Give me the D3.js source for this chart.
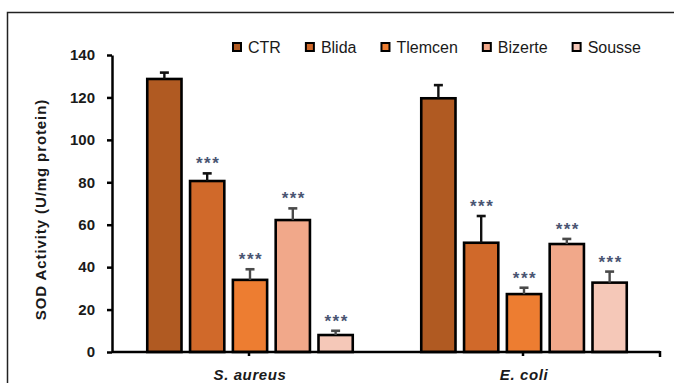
<!DOCTYPE html>
<html>
<head>
<meta charset="utf-8">
<script src="https://cdn.jsdelivr.net/npm/d3@7"></script>
<style>
  html, body { margin: 0; padding: 0; background: #fff; }
  svg { display: block; }
  text { font-family: "Liberation Sans", Arial, sans-serif; fill: #1a1a1a; }
</style>
</head>
<body>
<svg id="chart" width="674" height="383"></svg>
<script>
// Bacterial strains (x categories) and extract groups (series)
const categories = ["S. aureus", "E. coli"];
const series = ["CTR", "Blida", "Tlemcen", "Bizerte", "Sousse"];
const seriesColors = ["#B05A22", "#D0692A", "#ED7D31", "#F1A88A", "#F5C8B8"];

// SOD activity means (U/mg protein), one array per strain, in series order
const sAureusValues = [128.7, 80.6, 34.0, 62.2, 8.0];
const eColiValues   = [119.6, 51.5, 27.3, 50.9, 32.7];
// Standard deviations
const sAureusErrors = [3.0, 3.6, 5.0, 5.5, 2.0];
const eColiErrors   = [6.2, 12.6, 3.0, 2.4, 5.2];
// Significance vs control
const sAureusSig = ["", "***", "***", "***", "***"];
const eColiSig   = ["", "***", "***", "***", "***"];

const yTicks = [0, 20, 40, 60, 80, 100, 120, 140];
const yTitle = "SOD Activity (U/mg protein)";

const valuesByCat = [sAureusValues, eColiValues];
const errorsByCat = [sAureusErrors, eColiErrors];
const sigByCat = [sAureusSig, eColiSig];

const rows = [];
categories.forEach((c, ci) => {
  series.forEach((s, si) => {
    rows.push({ cat: c, ser: s, si, value: valuesByCat[ci][si], err: errorsByCat[ci][si], sig: sigByCat[ci][si] });
  });
});

const svg = d3.select("#chart");

// outer frame
svg.append("rect")
  .attr("x", 7.5).attr("y", 12.5)
  .attr("width", 700).attr("height", 420)
  .attr("fill", "none").attr("stroke", "#222").attr("stroke-width", 1.5);

const plot = { left: 112, right: 660, top: 55, bottom: 352 };

const y = d3.scaleLinear().domain([0, 140]).range([plot.bottom, plot.top]);
const x0 = d3.scaleBand().domain(categories).range([plot.left, plot.right]).paddingInner(0).paddingOuter(0);
const x1 = d3.scaleBand().domain(series).range([0, x0.bandwidth()]).paddingInner(0.2).paddingOuter(0.8);
const color = d3.scaleOrdinal().domain(series).range(seriesColors);

// bars
const bars = svg.append("g");
bars.selectAll("rect").data(rows).join("rect")
  .attr("x", d => x0(d.cat) + x1(d.ser) + 1)
  .attr("y", d => y(d.value))
  .attr("width", x1.bandwidth())
  .attr("height", d => y(0) - y(d.value))
  .attr("fill", d => color(d.ser))
  .attr("stroke", "#000").attr("stroke-width", 2.6);

// error bars (upper half only)
const capW = 9;
const errG = svg.append("g");
rows.forEach(d => {
  const cx = x0(d.cat) + x1(d.ser) + 1 + x1.bandwidth() / 2;
  const col = d.si <= 1 ? "#111" : "#4a4a4a";
  errG.append("line")
    .attr("x1", cx).attr("x2", cx)
    .attr("y1", y(d.value)).attr("y2", y(d.value + d.err))
    .attr("stroke", col).attr("stroke-width", 2.4);
  errG.append("line")
    .attr("x1", cx - capW / 2).attr("x2", cx + capW / 2)
    .attr("y1", y(d.value + d.err)).attr("y2", y(d.value + d.err))
    .attr("stroke", col).attr("stroke-width", 2.6);
  if (d.sig) {
    errG.append("text")
      .attr("x", cx + 1).attr("y", y(d.value + d.err) - 4)
      .attr("text-anchor", "middle")
      .attr("font-size", 17).attr("font-weight", "bold")
      .style("fill", "#4a5572")
      .style("letter-spacing", "1.5px")
      .text(d.sig);
  }
});

// y axis
const yAxis = d3.axisLeft(y).tickValues(yTicks).tickSize(5).tickSizeOuter(0).tickPadding(12);
const yg = svg.append("g").attr("transform", `translate(${plot.left},0)`).call(yAxis);
yg.select(".domain").attr("stroke", "#000").attr("stroke-width", 2.5);
yg.selectAll(".tick line").attr("stroke", "#000").attr("stroke-width", 2.5);
yg.selectAll(".tick text")
  .attr("font-size", 15).attr("font-weight", "bold")
  .style("font-family", "'Liberation Sans', Arial, sans-serif")
  .style("fill", "#1a1a1a");

// x axis with marks at each category centre and at the right end
const xg = svg.append("g").attr("transform", `translate(0,${plot.bottom})`);
xg.append("line")
  .attr("x1", plot.left).attr("x2", plot.right)
  .attr("y1", 0).attr("y2", 0)
  .attr("stroke", "#000").attr("stroke-width", 2.5);
categories.forEach(c => {
  const cx = x0(c) + x0.bandwidth() / 2;
  xg.append("line").attr("x1", cx).attr("x2", cx).attr("y1", 0).attr("y2", 4)
    .attr("stroke", "#000").attr("stroke-width", 2.5);
  xg.append("text")
    .attr("x", cx + 1).attr("y", 28)
    .attr("text-anchor", "middle")
    .attr("font-size", 15).attr("font-weight", "bold").attr("font-style", "italic")
    .style("letter-spacing", "0.6px")
    .text(c);
});
xg.append("line").attr("x1", plot.right).attr("x2", plot.right).attr("y1", -1).attr("y2", 5)
  .attr("stroke", "#000").attr("stroke-width", 2.5);

// y axis title
svg.append("text")
  .attr("transform", `translate(46,${(plot.top + plot.bottom) / 2 + 6}) rotate(-90)`)
  .attr("text-anchor", "middle")
  .attr("font-size", 15).attr("font-weight", "bold")
  .style("letter-spacing", "0.9px")
  .text(yTitle);

// legend
const legend = svg.append("g").attr("transform", "translate(232,47)");
let lx = 0;
series.forEach((s, i) => {
  const item = legend.append("g").attr("transform", `translate(${lx},0)`);
  item.append("rect")
    .attr("x", 1).attr("y", -4).attr("width", 8).attr("height", 8)
    .attr("fill", color(s)).attr("stroke", "#000").attr("stroke-width", 2);
  const t = item.append("text")
    .attr("x", 16).attr("y", 6)
    .attr("font-size", 16)
    .text(s);
  lx += 16 + t.node().getComputedTextLength() + 24;
});
</script>
</body>
</html>
